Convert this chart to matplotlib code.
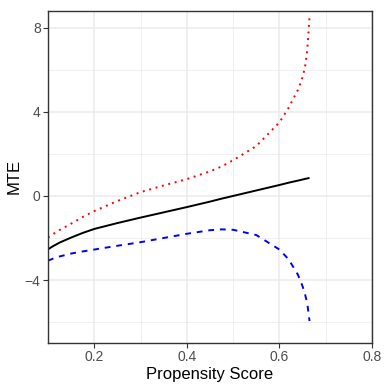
import matplotlib
matplotlib.use("Agg")
import matplotlib.pyplot as plt
from matplotlib.ticker import MultipleLocator

# Data
ps = [0.1, 0.11, 0.125, 0.15, 0.175, 0.2, 0.25, 0.3, 0.35, 0.4, 0.45, 0.475,
      0.5, 0.55, 0.6, 0.62, 0.64, 0.65, 0.655, 0.66, 0.665]
mte = [-2.54, -2.40, -2.22, -1.98, -1.76, -1.57, -1.29, -1.03, -0.78, -0.53,
       -0.27, -0.13, 0.00, 0.26, 0.52, 0.63, 0.73, 0.78, 0.81, 0.83, 0.86]
upper = [-1.98, -1.83, -1.62, -1.32, -1.00, -0.72, -0.24, 0.18, 0.50, 0.80,
         1.17, 1.40, 1.70, 2.37, 3.50, 4.20, 5.05, 5.65, 6.10, 6.90, 8.50]
lower = [-3.08, -2.99, -2.88, -2.74, -2.64, -2.55, -2.37, -2.20, -2.00, -1.80,
         -1.63, -1.59, -1.61, -1.86, -2.55, -3.02, -3.75, -4.30, -4.65, -5.10,
         -5.95]

xticks = [0.2, 0.4, 0.6, 0.8]
yticks = [-4, 0, 4, 8]
xlabel = "Propensity Score"
ylabel = "MTE"

plt.rcParams['font.family'] = ['Liberation Sans', 'DejaVu Sans']

fig = plt.figure(figsize=(3.88, 3.88), dpi=100)
ax = fig.add_axes([0.1237, 0.1168, 0.8351, 0.8556])

ax.plot(ps, upper, color='#FF0000', lw=1.4, linestyle=(0, (1, 2.4)))
ax.plot(ps, mte, color='black', lw=1.4, solid_capstyle='butt')
ax.plot(ps, lower, color='#0000FF', lw=1.4, linestyle=(0, (3, 3)))

ax.set_xlim(0.1, 0.8)
ax.set_ylim(-6.98, 8.81)
ax.set_xticks(xticks)
ax.set_xticklabels([f"{t:.1f}" for t in xticks])
ax.set_yticks(yticks)
ax.set_yticklabels([str(t).replace('-', '\u2212') for t in yticks])
ax.xaxis.set_minor_locator(MultipleLocator(0.1))
ax.yaxis.set_minor_locator(MultipleLocator(2))

ax.grid(which='major', color='#EBEBEB', lw=1.1)
ax.grid(which='minor', color='#EBEBEB', lw=0.55)
ax.set_axisbelow(True)
ax.tick_params(which='minor', length=0)
ax.tick_params(which='major', length=3.3, width=0.8, color='#333333',
               labelcolor='#4D4D4D', labelsize=10, pad=2)
for s in ax.spines.values():
    s.set_color('#333333')
    s.set_linewidth(1.0)

ax.set_xlabel(xlabel, fontsize=12, color='black', labelpad=2)
ax.set_ylabel(ylabel, fontsize=12, color='black', labelpad=2)

fig.savefig("out.png", dpi=100)
